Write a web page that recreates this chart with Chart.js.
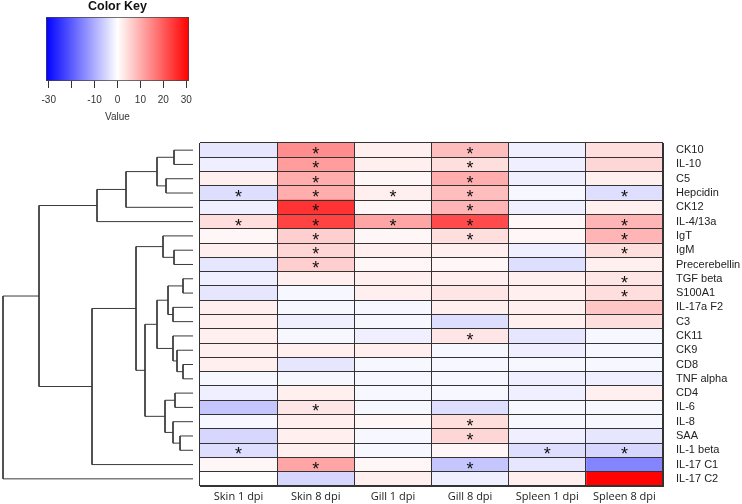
<!DOCTYPE html>
<html>
<head>
<meta charset="utf-8">
<script src="https://cdn.jsdelivr.net/npm/chart.js@4.4.1/dist/chart.umd.min.js"></script>
<style>
  html, body { margin: 0; padding: 0; background: #fff; }
  body { width: 742px; height: 504px; position: relative; overflow: hidden; }
  canvas { position: absolute; }
  #key { left: 0; top: -1px; }
  #tree { left: 0; top: 142px; }
  #heat { left: 199px; top: 142px; }
</style>
</head>
<body>
<canvas id="key" width="234" height="125"></canvas>
<canvas id="tree" width="199" height="362"></canvas>
<canvas id="heat" width="543" height="362"></canvas>
<script>
// rows in dendrogram order, top to bottom
const rowNames = ["CK10", "IL-10", "C5", "Hepcidin", "CK12", "IL-4/13a", "IgT", "IgM",
  "Precerebellin", "TGF beta", "S100A1", "IL-17a F2", "C3", "CK11", "CK9", "CD8",
  "TNF alpha", "CD4", "IL-6", "IL-8", "SAA", "IL-1 beta", "IL-17 C1", "IL-17 C2"];
const colNames = ["Skin 1 dpi", "Skin 8 dpi", "Gill 1 dpi", "Gill 8 dpi", "Spleen 1 dpi", "Spleen 8 dpi"];

// values per column (one per row)
const skin1   = [-3, -2, 2, -4, -2, 4, 1, 2, -3, -2, -3, 2, 2, 2, 2, 2, -1, -2, -7, -1, -5, -4, 1, 0];
const skin8   = [14, 12, 10, 10, 25, 23, 6, 5, 6, 2, -1, -1, -2, -1, 2, -3, -1, 2, 3, 2, 2, 2, 11, -5];
const gill1   = [2, 2, 1, 2, 1, 11, 1, 2, 1, 2, 2, -1, -1, -2, 2, -1, -1, -1, -1, 1, -1, -1, 1, 2];
const gill8   = [8, 4, 10, 8, 9, 22, 4, 2, 1, 2, 3, 2, -4, 3, -1, -1, -1, -1, -4, 4, 5, 1, -7, -2];
const spleen1 = [-2, -2, -2, -1, -2, 1, 1, -2, -4, 2, 2, 2, 2, -3, -2, -1, -2, -2, -1, -1, -2, -4, -3, 2];
const spleen8 = [4, 5, 2, -4, 2, 9, 9, 4, 2, 3, 4, 7, 4, -1, -1, -1, -2, 2, -1, -1, -3, -5, -15, 31];
const columns = [skin1, skin8, gill1, gill8, spleen1, spleen8];

// rows marked with * per column
const sigSkin1 = [3, 5, 21];
const sigSkin8 = [0, 1, 2, 3, 4, 5, 6, 7, 8, 18, 22];
const sigGill1 = [3, 5];
const sigGill8 = [0, 1, 2, 3, 4, 5, 6, 13, 19, 20, 22];
const sigSpleen1 = [21];
const sigSpleen8 = [3, 5, 6, 7, 9, 10, 21];
const sigCols = [sigSkin1, sigSkin8, sigGill1, sigGill8, sigSpleen1, sigSpleen8];

// row dendrogram, hclust style: negative = leaf (-1 is first row), positive = earlier merge
const mergeA = [-1, -3, 1, 3, 4, -8, -7, -10, -12, 8, -16, -15, -14, 10, -18, -21, -20, 15, 14, 7, 20, 5, 22];
const mergeB = [-2, -4, 2, -5, -6, -9, 6, -11, -13, 9, -17, 11, 12, 13, -19, -22, 16, 17, 18, 19, -23, 21, -24];
const mergeH = [19, 27, 36, 67, 96, 19, 30, 10, 20, 25, 10, 16, 20, 36, 18, 13, 20, 28, 48, 57, 101, 154, 190];

// colour key
const keyMin = -31.2, keyMax = 31.2;
const keyTicks = [-30, -20, -10, 0, 10, 20, 30];
const keyTickLabels = ["-30", "", "-10", "0", "10", "20", "30"];

Chart.defaults.font.family = "'Liberation Sans', Arial, sans-serif";
Chart.defaults.animation = false;

function heatColor(v) {
  const t = Math.min(1, Math.abs(v) / keyMax);
  const c = Math.round(255 * (1 - t));
  return v >= 0 ? `rgb(255,${c},${c})` : `rgb(${c},${c},255)`;
}

// axis label overhang would otherwise shrink the plot area
function noOverhang(s) {
  s.paddingTop = 0; s.paddingBottom = 0; s.paddingLeft = 0; s.paddingRight = 0;
}

// ---- colour key ----
new Chart(document.getElementById("key"), {
  type: "bar",
  data: {
    labels: ["key"],
    datasets: [{
      data: [[keyMin, keyMax]],
      backgroundColor: ctx => {
        const a = ctx.chart.chartArea;
        if (!a) return "#fff";
        const g = ctx.chart.ctx.createLinearGradient(a.left, 0, a.right, 0);
        for (let k = 0; k <= 20; k++) {
          const v = keyMin + (keyMax - keyMin) * k / 20;
          g.addColorStop(k / 20, heatColor(v));
        }
        return g;
      },
      borderColor: "#444",
      borderWidth: 1,
      borderSkipped: false,
      barPercentage: 1,
      categoryPercentage: 1
    }]
  },
  options: {
    indexAxis: "y",
    responsive: false,
    layout: { padding: { left: 46, right: 45, top: 0, bottom: 0 } },
    plugins: {
      legend: { display: false },
      tooltip: { enabled: false },
      title: {
        display: true,
        text: "Color Key",
        font: { size: 12.5, weight: "bold" },
        color: "#111",
        padding: { top: 0, bottom: 3 }
      }
    },
    scales: {
      y: { display: false },
      x: {
        min: keyMin,
        max: keyMax,
        afterBuildTicks: s => { s.ticks = keyTicks.map(v => ({ value: v })); },
        afterFit: s => { s.height = 43; noOverhang(s); },
        ticks: {
          callback: (v, i) => keyTickLabels[i],
          font: { size: 10 },
          color: "#333",
          padding: 6,
          maxRotation: 0,
          autoSkip: false
        },
        grid: { drawOnChartArea: false, drawTicks: true, tickLength: 7, color: "#333" },
        border: { display: false },
        title: { display: true, text: "Value", font: { size: 10 }, color: "#333", padding: { top: 0, bottom: 1 } }
      }
    }
  }
});

// ---- row dendrogram ----
function nodeOf(id) {
  if (id < 0) return { y: -id - 1, h: 0 };
  return nodes[id - 1];
}
const nodes = [];
const treeSets = [];
for (let m = 0; m < mergeH.length; m++) {
  const a = nodeOf(mergeA[m]), b = nodeOf(mergeB[m]), h = mergeH[m];
  nodes.push({ y: (a.y + b.y) / 2, h: h });
  treeSets.push({
    data: [{ x: a.h, y: a.y }, { x: h, y: a.y }, { x: h, y: b.y }, { x: b.h, y: b.y }],
    showLine: true,
    borderColor: "#3a3a3a",
    borderWidth: 1,
    pointRadius: 0,
    tension: 0,
    clip: false
  });
}
new Chart(document.getElementById("tree"), {
  type: "scatter",
  data: { datasets: treeSets },
  options: {
    responsive: false,
    layout: { padding: { left: 3, right: 6, top: 1, bottom: 18 } },
    plugins: { legend: { display: false }, tooltip: { enabled: false } },
    scales: {
      x: { display: false, type: "linear", min: 0, max: 190, reverse: true },
      y: { display: false, type: "linear", min: -0.5, max: rowNames.length - 0.5, reverse: true }
    }
  }
});

// ---- heatmap ----
const starPlugin = {
  id: "stars",
  afterDatasetsDraw(chart) {
    const ctx = chart.ctx, xs = chart.scales.x, ys = chart.scales.y;
    ctx.save();
    ctx.fillStyle = "#111";
    ctx.font = "18px 'Liberation Sans'";
    ctx.textAlign = "center";
    ctx.textBaseline = "alphabetic";
    sigCols.forEach((rows, c) => {
      rows.forEach(r => {
        ctx.fillText("*", xs.getPixelForValue(c + 0.5), ys.getPixelForValue(r) + 10);
      });
    });
    ctx.restore();
  }
};

new Chart(document.getElementById("heat"), {
  type: "bar",
  data: {
    labels: rowNames,
    datasets: columns.map((vals, c) => ({
      label: colNames[c],
      data: vals.map(() => [c, c + 1]),
      backgroundColor: vals.map(heatColor),
      borderWidth: 0,
      barPercentage: 1,
      categoryPercentage: 1,
      grouped: false,
      xAxisID: "x"
    }))
  },
  options: {
    indexAxis: "y",
    responsive: false,
    layout: { padding: { left: 1, top: 1, right: 0, bottom: 0 } },
    plugins: { legend: { display: false }, tooltip: { enabled: false } },
    scales: {
      x: { type: "linear", display: false, min: 0, max: colNames.length },
      xc: {
        type: "category",
        position: "bottom",
        labels: colNames,
        offset: true,
        grid: { offset: true, color: "#333", lineWidth: 1, drawTicks: false, z: 1 },
        border: { color: "#333", z: 1 },
        ticks: { font: { family: "'Open Sans'", size: 11 }, color: "#222", padding: 4, maxRotation: 0, autoSkip: false },
        afterFit: s => { s.height = 18; noOverhang(s); }
      },
      y: {
        type: "category",
        position: "right",
        offset: true,
        grid: { offset: true, color: "#333", lineWidth: 1, drawTicks: false, z: 1 },
        border: { color: "#333", z: 1 },
        ticks: { font: { size: 11 }, color: "#222", padding: 13, autoSkip: false },
        afterFit: s => { s.width = 79; noOverhang(s); }
      }
    }
  },
  plugins: [starPlugin]
});
</script>
</body>
</html>
